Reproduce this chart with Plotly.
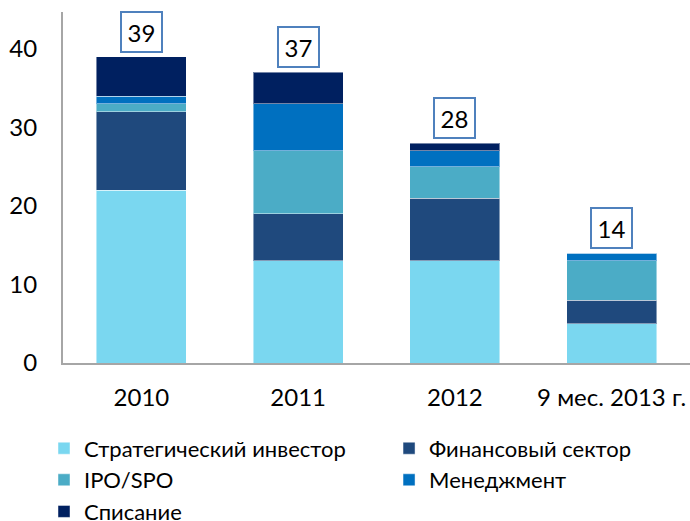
import plotly.graph_objects as go

categories = ["2010", "2011", "2012", "9 мес. 2013 г."]
series_names = ["Стратегический инвестор", "Финансовый сектор", "IPO/SPO", "Менеджмент", "Списание"]
strategic = [22, 13, 13, 5]
financial = [10, 6, 8, 3]
ipo_spo = [1, 8, 4, 5]
management = [1, 6, 2, 1]
writeoff = [5, 4, 1, 0]
totals = [39, 37, 28, 14]
y_ticks = [0, 10, 20, 30, 40]

colors = ["#7AD7F0", "#1F497D", "#4BACC6", "#0070C0", "#002060"]
series_values = [strategic, financial, ipo_spo, management, writeoff]
legend_ids = ["legend", "legend2", "legend", "legend2", "legend"]

FONT = "Lato, Roboto, sans-serif"

fig = go.Figure()
for name, vals, col, lg in zip(series_names, series_values, colors, legend_ids):
    fig.add_trace(go.Bar(
        x=list(categories), y=list(vals), name=name, legend=lg,
        marker=dict(color=col, line=dict(color="rgba(255,255,255,0.45)", width=1)),
    ))

# annotations placed by category index on the category axis
for i, t in enumerate(totals):
    fig.add_annotation(
        x=i, y=t, xref="x", yref="y", text=str(t), showarrow=False,
        yanchor="bottom", yshift=4, width=35, height=34,
        font=dict(family=FONT, size=24, color="#000000"),
        bgcolor="#FFFFFF", bordercolor="#4F81BD", borderwidth=2, borderpad=2,
    )

legend_common = dict(
    orientation="v", yanchor="top", traceorder="normal",
    font=dict(family=FONT, size=22, color="#000000"),
    itemclick=False, itemdoubleclick=False, bgcolor="rgba(0,0,0,0)",
)

fig.update_layout(
    barmode="stack",
    bargap=0.426,
    width=690, height=521,
    margin=dict(l=63, r=0, t=12, b=158, autoexpand=False),
    paper_bgcolor="white", plot_bgcolor="white",
    font=dict(family=FONT, size=24, color="#000000"),
    showlegend=True,
    legend=dict(x=-0.0303, y=-0.1835, **legend_common),
    legend2=dict(x=0.52, y=-0.1835, **legend_common),
    xaxis=dict(
        type="category", categoryorder="array", categoryarray=list(categories),
        range=[-0.5, 3.5],
        showline=True, linecolor="#A6A6A6", linewidth=2, ticks="",
        tickfont=dict(size=24), showgrid=False, ticklabelstandoff=12,
    ),
    yaxis=dict(
        range=[0, 44.7], tickvals=y_ticks, showline=True, linecolor="#A6A6A6",
        linewidth=2, showgrid=False, zeroline=False, ticks="",
        tickfont=dict(size=24), ticklabelstandoff=19,
    ),
)

fig.write_html(
    "out.html",
    config={"displayModeBar": False},
    post_script="document.body.style.margin='0';",
)
